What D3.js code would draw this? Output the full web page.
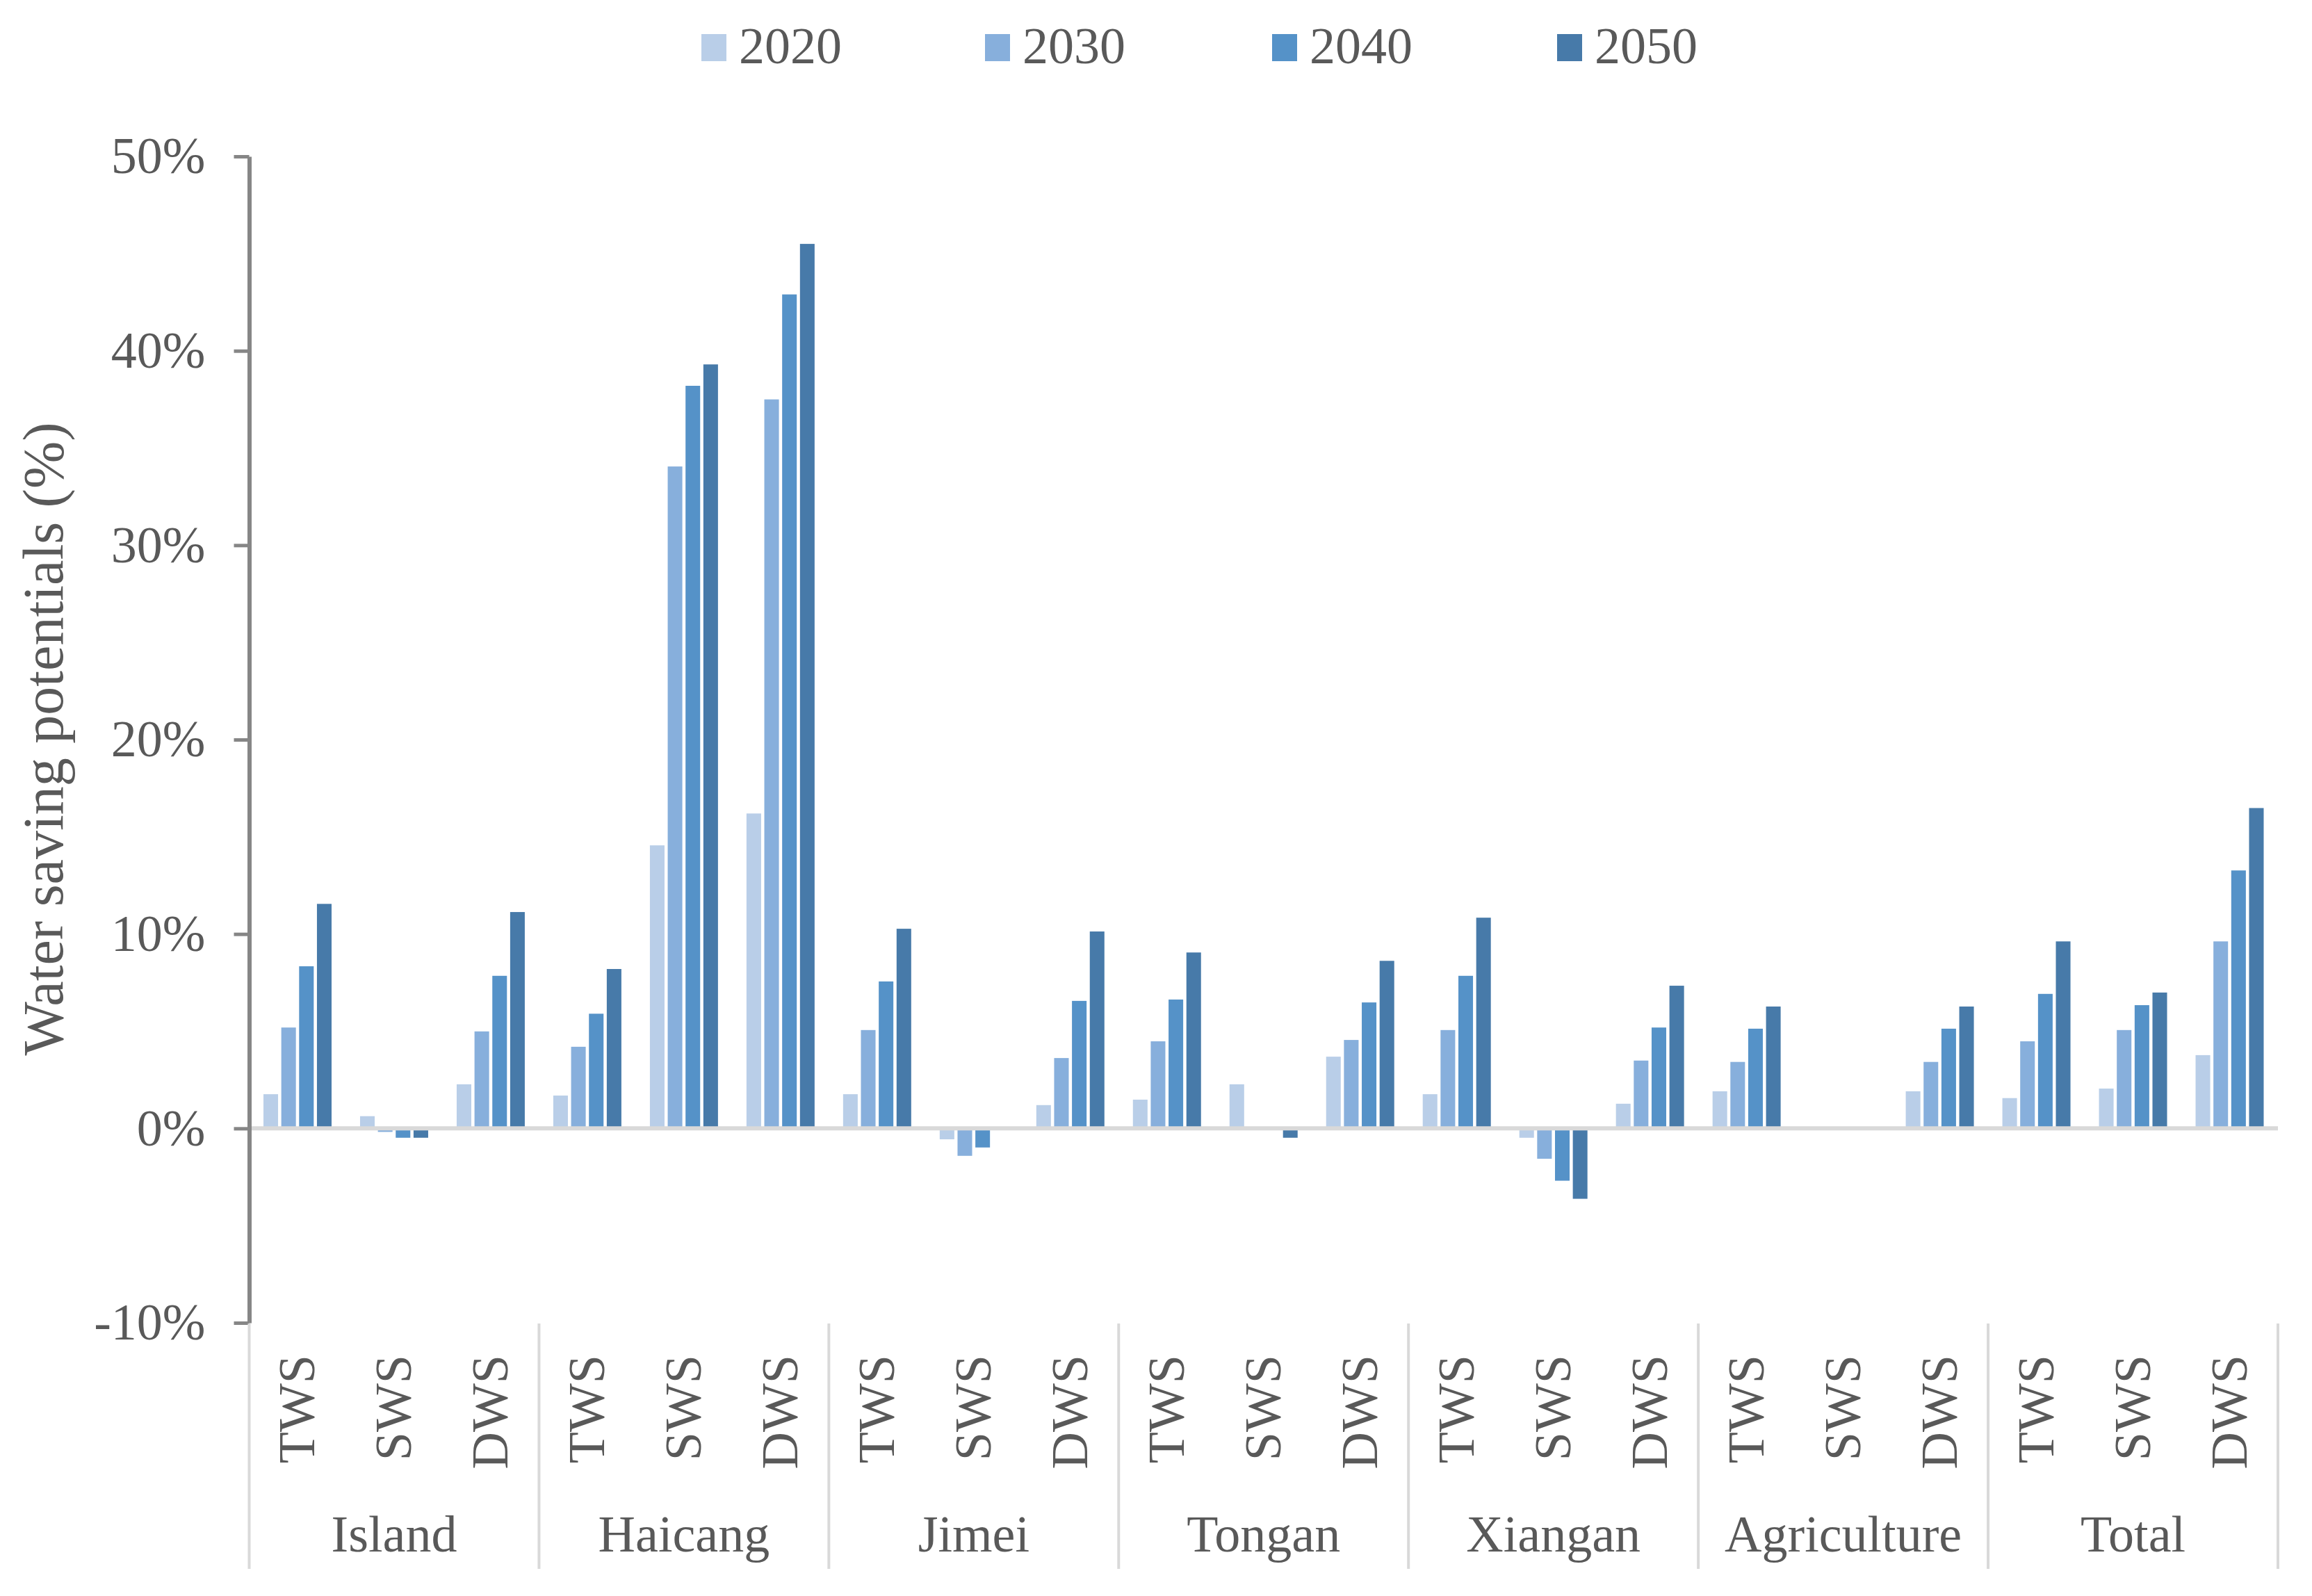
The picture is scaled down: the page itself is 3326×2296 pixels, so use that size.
<!DOCTYPE html>
<html>
<head>
<meta charset="utf-8">
<script src="https://cdn.jsdelivr.net/npm/d3@7"></script>
<style>
  html, body { margin: 0; padding: 0; background: #ffffff; }
  svg { display: block; }
  text { font-family: "Liberation Serif", "Times New Roman", serif; fill: #595959; }
</style>
</head>
<body>
<script>
// ---------- DATA ----------
const regions = ["Island", "Haicang", "Jimei", "Tongan", "Xiangan", "Agriculture", "Total"];
const types = ["TWS", "SWS", "DWS"];
const years = ["2020", "2030", "2040", "2050"];
// values in %, order: region-major, type-minor (TWS, SWS, DWS)
const v2020 = [1.76, 0.63, 2.27, 1.69, 14.56, 16.2, 1.76, -0.56, 1.20, 1.48, 2.27, 3.69, 1.76, -0.48, 1.27, 1.91, 0, 1.91, 1.56, 2.05, 3.77];
const v2030 = [5.19, -0.18, 4.99, 4.20, 34.05, 37.5, 5.06, -1.41, 3.62, 4.48, 0, 4.55, 5.06, -1.56, 3.49, 3.42, 0, 3.42, 4.48, 5.06, 9.62];
const v2040 = [8.34, -0.48, 7.85, 5.90, 38.2, 42.9, 7.56, -0.98, 6.56, 6.63, 0, 6.48, 7.85, -2.69, 5.19, 5.13, 0, 5.13, 6.92, 6.34, 13.27];
const v2050 = [11.55, -0.48, 11.13, 8.20, 39.3, 45.5, 10.27, 0, 10.13, 9.05, -0.48, 8.62, 10.84, -3.62, 7.34, 6.27, 0, 6.27, 9.62, 6.99, 16.48];
const yTicks = [-10, 0, 10, 20, 30, 40, 50];
const colors = ["#b9cee8", "#87afdc", "#5592c8", "#477aa9"];
const seriesValues = [v2020, v2030, v2040, v2050];

// ---------- LAYOUT ----------
const W = 3326, H = 2296;
const left = 358.5, right = 3277;
const yTop = 225, yBottom = 1903;

const svg = d3.select("body").append("svg").attr("width", W).attr("height", H);

const subcats = [];
regions.forEach(r => types.forEach(t => subcats.push(r + "|" + t)));

const xGroup = d3.scaleBand().domain(regions).range([left, right]).padding(0);
const x0 = d3.scaleBand().domain(subcats).range([left, right]).padding(0);
const innerPad = 20.5;
const x1 = d3.scaleBand().domain(years).range([innerPad, x0.bandwidth() - innerPad]).paddingInner(0.18).paddingOuter(0);
const y = d3.scaleLinear().domain([-10, 50]).range([yBottom, yTop]);

// ---------- BARS ----------
const barData = [];
years.forEach((yr, si) => {
  subcats.forEach((sc, i) => {
    barData.push({ sc, yr, v: seriesValues[si][i], c: colors[si] });
  });
});
svg.append("g").selectAll("rect").data(barData).join("rect")
  .attr("x", d => x0(d.sc) + x1(d.yr))
  .attr("width", x1.bandwidth())
  .attr("y", d => y(Math.max(0, d.v)))
  .attr("height", d => Math.abs(y(d.v) - y(0)))
  .attr("fill", d => d.c);

// zero line
svg.append("line")
  .attr("x1", left).attr("x2", right)
  .attr("y1", y(0)).attr("y2", y(0))
  .attr("stroke", "#d9d9d9").attr("stroke-width", 6);

// ---------- Y AXIS ----------
const yAxis = d3.axisLeft(y).tickValues(yTicks).tickSize(22).tickSizeOuter(0).tickPadding(41)
  .tickFormat(d => d + "%");
const gy = svg.append("g").attr("transform", `translate(${left},0)`).call(yAxis);
gy.select(".domain").attr("stroke", "#868686").attr("stroke-width", 6);
gy.selectAll(".tick line").attr("stroke", "#868686").attr("stroke-width", 5);
gy.selectAll(".tick text")
  .attr("font-family", "Liberation Serif, Times New Roman, serif")
  .attr("font-size", 74).attr("fill", "#595959");

// y title
svg.append("text")
  .attr("transform", `translate(90,1063) rotate(-90)`)
  .attr("text-anchor", "middle")
  .attr("font-size", 82)
  .text("Water saving potentials (%)");

// ---------- X AXIS (multi-level) ----------
const sepTop = 1904, sepBottom = 2257;
const bounds = regions.map(r => xGroup(r)).concat([right]);
svg.append("g").selectAll("line").data(bounds).join("line")
  .attr("x1", d => d).attr("x2", d => d)
  .attr("y1", sepTop).attr("y2", sepBottom)
  .attr("stroke", "#d9d9d9").attr("stroke-width", 4);

svg.append("g").selectAll("text").data(subcats).join("text")
  .attr("transform", d => `translate(${x0(d) + x0.bandwidth() / 2},1949) rotate(-90)`)
  .attr("text-anchor", "end")
  .attr("dy", "0.33em")
  .attr("font-size", 74)
  .text(d => d.split("|")[1]);

svg.append("g").selectAll("text").data(regions).join("text")
  .attr("x", d => xGroup(d) + xGroup.bandwidth() / 2)
  .attr("y", 2232)
  .attr("text-anchor", "middle")
  .attr("font-size", 74)
  .text(d => d);

// ---------- LEGEND ----------
const legendX = [1009, 1417, 1830, 2240];
const lg = svg.append("g").selectAll("g").data(years).join("g")
  .attr("transform", (d, i) => `translate(${legendX[i]},0)`);
lg.append("rect").attr("x", 0).attr("y", 49).attr("width", 36).attr("height", 39)
  .attr("fill", (d, i) => colors[i]);
lg.append("text").attr("x", 54).attr("y", 91).attr("font-size", 74).text(d => d);
</script>
</body>
</html>
